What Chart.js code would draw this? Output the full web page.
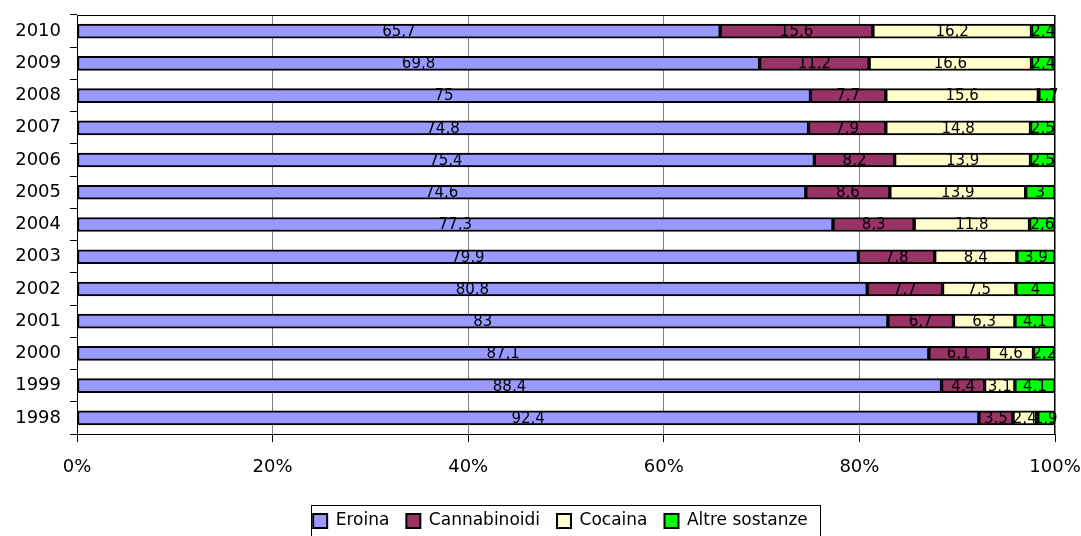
<!DOCTYPE html>
<html>
<head>
<meta charset="utf-8">
<script src="https://cdn.jsdelivr.net/npm/chart.js@4/dist/chart.umd.min.js"></script>
<style>
  html, body { margin: 0; padding: 0; background: #ffffff; }
  #wrap { width: 1081px; height: 536px; }
</style>
</head>
<body>
<div id="wrap"><canvas id="c" width="1081" height="536"></canvas></div>
<script>
// Years, oldest first (the axis is reversed so 2010 sits on top)
const years = ['1998', '1999', '2000', '2001', '2002', '2003', '2004', '2005', '2006', '2007', '2008', '2009', '2010'];

// Share of treated users by primary substance (%)
const eroina       = [92.4, 88.4, 87.1, 83.0, 80.8, 79.9, 77.3, 74.6, 75.4, 74.8, 75.0, 69.8, 65.7];
const cannabinoidi = [3.5, 4.4, 6.1, 6.7, 7.7, 7.8, 8.3, 8.6, 8.2, 7.9, 7.7, 11.2, 15.6];
const cocaina      = [2.4, 3.1, 4.6, 6.3, 7.5, 8.4, 11.8, 13.9, 13.9, 14.8, 15.6, 16.6, 16.2];
const altre        = [1.9, 4.1, 2.2, 4.1, 4.0, 3.9, 2.6, 3.0, 2.5, 2.5, 1.7, 2.4, 2.4];

const seriesNames = ['Eroina', 'Cannabinoidi', 'Cocaina', 'Altre sostanze'];
const xTicks = [0, 20, 40, 60, 80, 100];

const FONT = "'DejaVu Sans', Verdana, sans-serif";
const raw = [eroina, cannabinoidi, cocaina, altre];
const colors = ['#9999FF', '#993366', '#FFFFCC', '#00FF00'];

// 100% stacking: each row scaled to its own total
const totals = years.map((_, i) => raw.reduce((s, arr) => s + arr[i], 0));

const datasets = raw.map((arr, k) => ({
  label: seriesNames[k],
  data: arr.map((v, i) => v / totals[i] * 100),
  rawValues: arr,
  backgroundColor: colors[k],
  borderColor: '#000000',
  borderWidth: 2,
  borderSkipped: false,
  barThickness: 14
}));

// Value labels centred on each segment
const valueLabels = {
  id: 'valueLabels',
  afterDatasetsDraw(chart) {
    const ctx = chart.ctx;
    ctx.save();
    ctx.font = '15px ' + FONT;
    ctx.fillStyle = '#000000';
    ctx.textAlign = 'center';
    ctx.textBaseline = 'middle';
    chart.data.datasets.forEach((ds, k) => {
      const meta = chart.getDatasetMeta(k);
      meta.data.forEach((el, i) => {
        const txt = String(ds.rawValues[i]).replace('.', ',');
        ctx.fillText(txt, (el.x + el.base) / 2, el.y + 1);
      });
    });
    ctx.restore();
  }
};

// Legend sits a little right of the canvas centre
const legendShift = {
  id: 'legendShift',
  afterLayout(chart) {
    const lg = chart.legend;
    if (lg) { lg.left += 33; lg.right += 33; }
  }
};

// Plot-area frame and legend frame
const frames = {
  id: 'frames',
  afterDraw(chart) {
    const ctx = chart.ctx;
    const a = chart.chartArea;
    ctx.save();
    ctx.strokeStyle = '#000000';
    ctx.lineWidth = 1;
    ctx.strokeRect(Math.round(a.left) + 0.5, Math.round(a.top) + 0.5,
                   Math.round(a.right - a.left) - 1, Math.round(a.bottom - a.top));
    const boxes = chart.legend.legendHitBoxes;
    if (boxes && boxes.length) {
      const l = boxes[0].left - 2;
      const last = boxes[boxes.length - 1];
      const r = last.left + last.width + 12;
      const cy = boxes[0].top + boxes[0].height / 2;
      ctx.strokeRect(Math.round(l) + 0.5, Math.round(cy - 16) + 0.5, Math.round(r - l), 40);
    }
    ctx.restore();
  }
};

new Chart(document.getElementById('c'), {
  type: 'bar',
  data: { labels: years, datasets },
  options: {
    indexAxis: 'y',
    responsive: false,
    animation: false,
    devicePixelRatio: 1,
    layout: { padding: { left: 0, right: 26, top: 15, bottom: -3.5 } },
    scales: {
      x: {
        stacked: true,
        min: 0,
        max: 100,
        afterBuildTicks(scale) { scale.ticks = xTicks.map(v => ({ value: v })); },
        afterFit(scale) {
          scale.height = 61.5;
          scale.paddingLeft = 0;
          scale.paddingRight = 0;
        },
        ticks: {
          callback: v => v + '%',
          font: { family: FONT, size: 18 },
          color: '#000000',
          padding: 15,
          maxRotation: 0
        },
        grid: {
          color: '#808080',
          lineWidth: 1,
          tickColor: '#000000',
          tickLength: 8
        },
        border: { color: '#000000', width: 1 }
      },
      y: {
        stacked: true,
        reverse: true,
        afterFit(scale) {
          scale.width = 77;
          scale.paddingTop = 0;
          scale.paddingBottom = 0;
        },
        ticks: {
          font: { family: FONT, size: 18 },
          color: '#000000',
          padding: 9
        },
        grid: {
          offset: true,
          drawOnChartArea: false,
          color: '#000000',
          tickColor: '#000000',
          tickLength: 7
        },
        border: { color: '#000000', width: 1 }
      }
    },
    plugins: {
      legend: {
        position: 'bottom',
        labels: {
          font: { family: FONT, size: 17 },
          color: '#000000',
          boxWidth: 14,
          boxHeight: 14,
          padding: 17
        }
      },
      tooltip: { enabled: false }
    }
  },
  plugins: [legendShift, valueLabels, frames]
});
</script>
</body>
</html>
